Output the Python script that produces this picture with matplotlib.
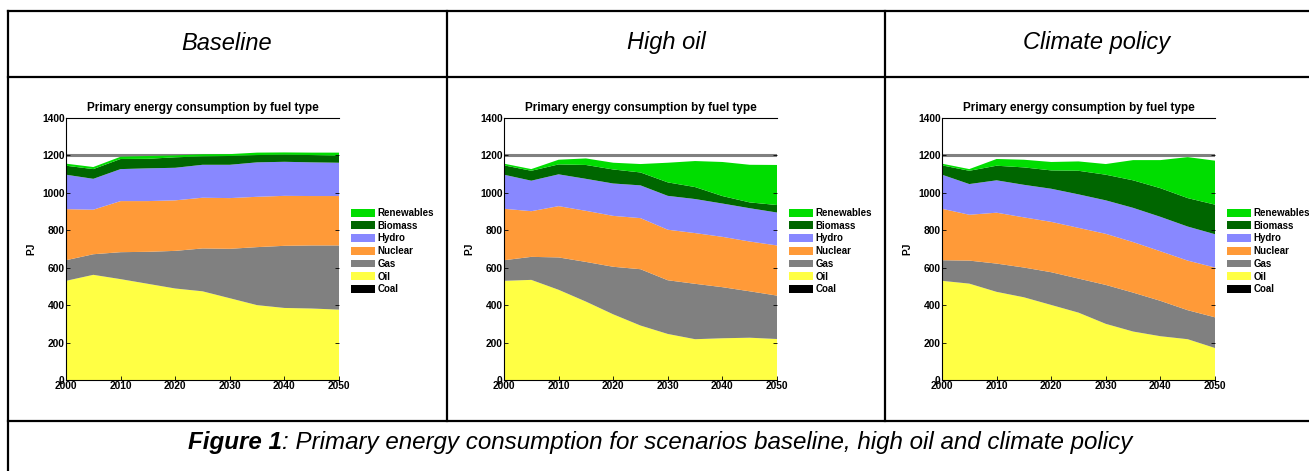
import numpy as np
import matplotlib
matplotlib.use("Agg")
import matplotlib.pyplot as plt
from matplotlib.lines import Line2D
from matplotlib.patches import Patch

plt.rcParams['font.family'] = ['Liberation Sans', 'DejaVu Sans']

years = [2000, 2005, 2010, 2015, 2020, 2025, 2030, 2035, 2040, 2045, 2050]
fuels = ['Coal', 'Oil', 'Gas', 'Nuclear', 'Hydro', 'Biomass', 'Renewables']
fuel_colors = ['#000000', '#ffff44', '#808080', '#ff9a38', '#8888ff', '#006600', '#00dd00']
scenarios = ['Baseline', 'High oil', 'Climate policy']

# PJ per fuel, one list per scenario
base_coal = [0, 0, 0, 0, 0, 0, 0, 0, 0, 0, 0]
base_oil = [530, 562, 539, 514, 489, 474, 437, 400, 385, 382, 376]
base_gas = [110, 110, 144, 171, 201, 229, 264, 310, 332, 337, 343]
base_nuclear = [273, 238, 273, 271, 270, 271, 271, 269, 267, 264, 264]
base_hydro = [184, 165, 171, 175, 174, 176, 178, 184, 182, 180, 178]
base_biomass = [48, 52, 54, 51, 56, 45, 47, 39, 38, 39, 37]
base_renew = [11, 11, 12, 15, 10, 11, 10, 13, 12, 13, 17]

high_coal = [0, 0, 0, 0, 0, 0, 0, 0, 0, 0, 0]
high_oil = [530, 535, 482, 419, 351, 291, 246, 218, 223, 226, 219]
high_gas = [110, 123, 173, 212, 254, 301, 287, 296, 273, 248, 232]
high_nuclear = [275, 244, 274, 273, 272, 273, 270, 271, 269, 266, 268]
high_hydro = [182, 163, 170, 171, 173, 175, 181, 182, 178, 178, 176]
high_biomass = [50, 53, 53, 74, 75, 69, 72, 64, 40, 31, 40]
high_renew = [9, 9, 25, 35, 36, 45, 105, 139, 182, 201, 214]

clim_coal = [0, 0, 0, 0, 0, 0, 0, 0, 0, 0, 0]
clim_oil = [530, 515, 471, 442, 401, 360, 300, 259, 234, 218, 171]
clim_gas = [110, 123, 151, 159, 175, 182, 208, 208, 189, 155, 164]
clim_nuclear = [275, 245, 272, 268, 269, 271, 273, 270, 265, 265, 266]
clim_hydro = [182, 164, 173, 174, 177, 179, 179, 183, 184, 182, 178]
clim_biomass = [50, 71, 78, 93, 98, 126, 137, 147, 153, 152, 158]
clim_renew = [9, 9, 36, 41, 45, 50, 57, 108, 150, 219, 235]

data = [
    [base_coal, base_oil, base_gas, base_nuclear, base_hydro, base_biomass, base_renew],
    [high_coal, high_oil, high_gas, high_nuclear, high_hydro, high_biomass, high_renew],
    [clim_coal, clim_oil, clim_gas, clim_nuclear, clim_hydro, clim_biomass, clim_renew],
]

W, H = 1309, 471
fig = plt.figure(figsize=(W / 100, H / 100), dpi=100)


def fx(px):
    return px / W


def fy(py):
    return 1 - py / H


# table grid
lw = 1.6
grid = [
    ((8, 1309), (11, 11)),
    ((8, 1309), (77, 77)),
    ((8, 1309), (421, 421)),
    ((8, 8), (11, 471)),
    ((447, 447), (11, 421)),
    ((885, 885), (11, 421)),
]
for xs, ys in grid:
    fig.add_artist(Line2D([fx(x) for x in xs], [fy(y) for y in ys],
                          color='black', lw=lw, transform=fig.transFigure))

cell_centers = [227, 666, 1097]
for name, cx in zip(scenarios, cell_centers):
    fig.text(fx(cx), fy(43), name, ha='center', va='center',
             fontsize=17, style='italic')

# caption: bold-italic lead plus italic rest, centred as a whole
renderer = fig.canvas.get_renderer()
cap_size = 17.4
lead = fig.text(0, fy(443), 'Figure 1', fontsize=cap_size, style='italic',
                weight='bold', va='center')
rest = fig.text(0, fy(443), ': Primary energy consumption for scenarios baseline, high oil and climate policy',
                fontsize=cap_size, style='italic', va='center')
w1 = lead.get_window_extent(renderer).width
w2 = rest.get_window_extent(renderer).width
start = 660 - (w1 + w2) / 2
lead.set_x(fx(start))
rest.set_x(fx(start + w1))

ax_lefts = [66, 504, 942]
ax_w = 273
ax_top, ax_bot = 118, 380

for i, left in enumerate(ax_lefts):
    ax = fig.add_axes([fx(left), fy(ax_bot), ax_w / W, (ax_bot - ax_top) / H])
    ax.axhline(1200, color='#808080', lw=2.2, zorder=0)
    ax.stackplot(years, *data[i], colors=fuel_colors, linewidth=0, zorder=1)
    ax.set_xlim(2000, 2050)
    ax.set_ylim(0, 1400)
    ax.set_xticks(range(2000, 2051, 10))
    ax.set_yticks(range(0, 1401, 200))
    ax.tick_params(direction='in', length=3, width=0.6, labelsize=7.4, pad=1,
                   right=True)
    for lab in ax.get_xticklabels() + ax.get_yticklabels():
        lab.set_fontweight('bold')
    ax.spines['right'].set_visible(False)
    for s in ['left', 'top', 'bottom']:
        ax.spines[s].set_linewidth(0.8)
    ax.set_title('Primary energy consumption by fuel type', fontsize=8.5,
                 fontweight='bold', pad=5)
    ax.set_ylabel('PJ', fontsize=7.4, fontweight='bold', labelpad=4)
    handles = [Patch(facecolor=c, edgecolor='none') for c in fuel_colors][::-1]
    ax.legend(handles, fuels[::-1], loc='upper left',
              bbox_to_anchor=(285 / ax_w, (ax_bot - 208) / (ax_bot - ax_top)),
              frameon=False, borderaxespad=0, borderpad=0,
              handlelength=2.5, handleheight=0.85, handletextpad=0.2,
              labelspacing=0.28, prop={'size': 7, 'weight': 'bold'})

fig.savefig('out.png', dpi=100)
